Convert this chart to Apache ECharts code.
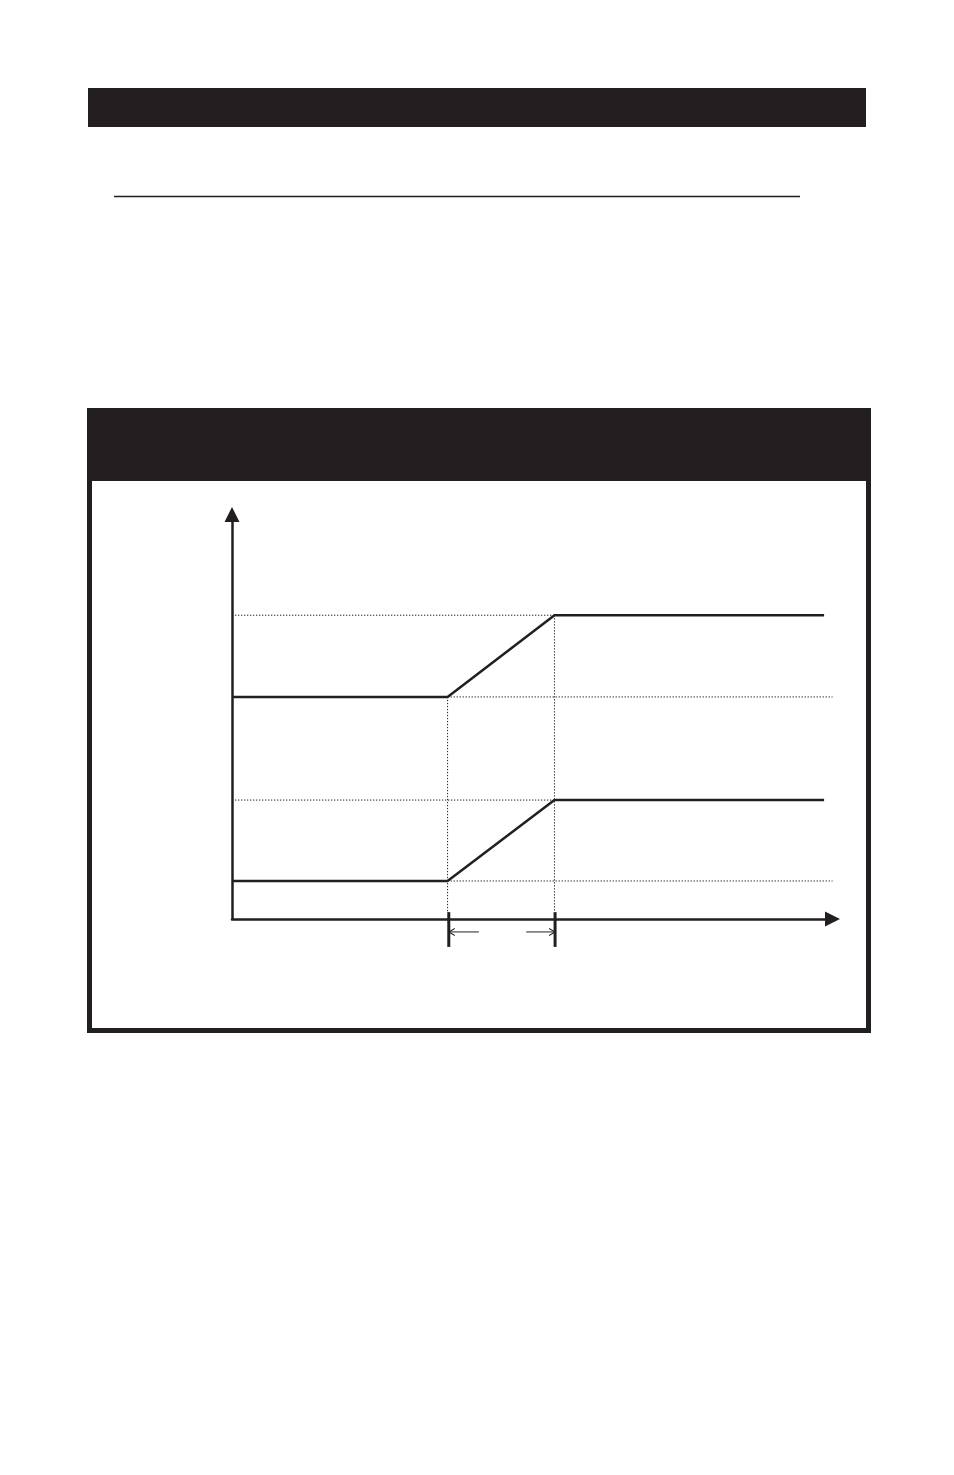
<!DOCTYPE html>
<html>
<head>
<meta charset="utf-8">
<script src="https://cdn.jsdelivr.net/npm/echarts@6/dist/echarts.min.js"></script>
<style>
html,body{margin:0;padding:0;background:#fff;}
#chart{width:954px;height:1475px;}
</style>
</head>
<body>
<div id="chart"></div>
<script>
// Data (time in arbitrary units 0..100, level in arbitrary units 0..100)
const timeX = [0, 35.9, 53.7, 98.6];
const upperLevel = [54.9, 54.9, 75.1, 75.1];
const lowerLevel = [9.4, 9.4, 29.4, 29.4];
const guideStartX = 0.5;
const guideEndX = 100;
const tickX = [36.1, 53.8];
const tickSpan = [1.7, -6.9];
const arrowY = -3.2;
const leftArrow = [41.1, 36.1];
const rightArrow = [49.0, 53.8];

const INK = '#231f20';

function zip(xs, ys) { return xs.map((x, i) => [x, ys[i]]); }

const guides = [
  [[guideStartX, upperLevel[3]], [timeX[2], upperLevel[3]]],
  [[timeX[1], upperLevel[0]], [guideEndX, upperLevel[0]]],
  [[guideStartX, lowerLevel[3]], [timeX[2], lowerLevel[3]]],
  [[timeX[1], lowerLevel[0]], [guideEndX, lowerLevel[0]]],
  [[timeX[1], upperLevel[1]], [timeX[1], tickSpan[0]]],
  [[timeX[2], upperLevel[2]], [timeX[2], tickSpan[0]]]
];

const series = [];
guides.forEach(g => series.push({
  type: 'line', data: g, symbol: 'none', silent: true, clip: false,
  lineStyle: { color: INK, width: 1, type: [1.3, 1.7] }, z: 1
}));
series.push({
  type: 'line', data: zip(timeX, upperLevel), symbol: 'none', clip: false,
  lineStyle: { color: INK, width: 2.5 }, z: 3
});
series.push({
  type: 'line', data: zip(timeX, lowerLevel), symbol: 'none', clip: false,
  lineStyle: { color: INK, width: 2.5 }, z: 3
});
tickX.forEach(t => series.push({
  type: 'line', data: [[t, tickSpan[0]], [t, tickSpan[1]]], symbol: 'none', clip: false,
  lineStyle: { color: INK, width: 3 }, z: 4
}));

function arrowSeries(pair, path, offset) {
  return {
    type: 'line', clip: false, silent: true, showSymbol: true, showAllSymbol: true, z: 4,
    lineStyle: { color: INK, width: 1 },
    itemStyle: { color: 'rgba(0,0,0,0)', borderColor: INK, borderWidth: 1 },
    data: [
      { value: [pair[0], arrowY], symbol: 'none' },
      { value: [pair[1], arrowY], symbol: path, symbolSize: [6, 7], symbolOffset: offset }
    ]
  };
}
series.push(arrowSeries(leftArrow, 'path://M10,0 L0,5 L10,10', [3, 0]));
series.push(arrowSeries(rightArrow, 'path://M0,0 L10,5 L0,10', [-3, 0]));

const chart = echarts.init(document.getElementById('chart'), null, { renderer: 'canvas' });
chart.setOption({
  animation: false,
  backgroundColor: '#fff',
  grid: { left: 232, right: 121.5, top: 514.5, bottom: 556, containLabel: false },
  xAxis: {
    type: 'value', min: 0, max: 100,
    axisLine: { show: true, onZero: true, symbol: ['none', 'triangle'], symbolSize: [15, 15],
      lineStyle: { color: INK, width: 2.5 } },
    axisTick: { show: false }, axisLabel: { show: false }, splitLine: { show: false }
  },
  yAxis: {
    type: 'value', min: 0, max: 100,
    axisLine: { show: true, onZero: true, symbol: ['none', 'triangle'], symbolSize: [15, 15],
      lineStyle: { color: INK, width: 2.5 } },
    axisTick: { show: false }, axisLabel: { show: false }, splitLine: { show: false }
  },
  graphic: [
    { type: 'rect', shape: { x: 88, y: 88, width: 778, height: 39 }, style: { fill: INK }, silent: true },
    { type: 'line', shape: { x1: 114, y1: 196.5, x2: 800, y2: 196.5 }, style: { stroke: INK, lineWidth: 1.3 }, silent: true },
    { type: 'rect', shape: { x: 87, y: 408, width: 784, height: 73 }, style: { fill: INK }, silent: true },
    { type: 'rect', shape: { x: 89.5, y: 410.5, width: 779, height: 620 }, style: { fill: null, stroke: INK, lineWidth: 5 }, silent: true }
  ],
  series: series
});
</script>
</body>
</html>
